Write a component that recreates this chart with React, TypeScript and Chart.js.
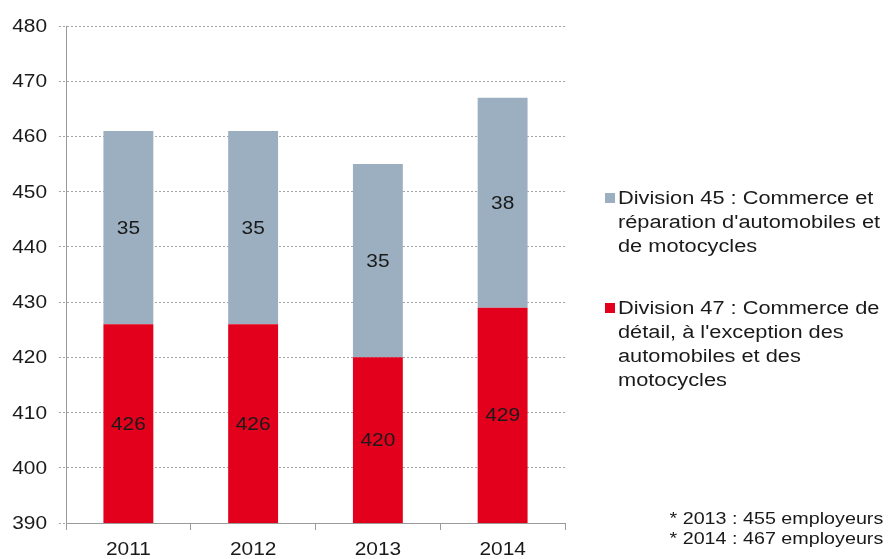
import React, { useEffect, useRef } from "react";
import { Chart, registerables } from "chart.js";

Chart.register(...registerables);

const categories = ["2011", "2012", "2013", "2014"];
const division47 = [426, 426, 420, 429];
const division45 = [35, 35, 35, 38];
const yTicks = { min: 390, max: 480, step: 10 };
const legendDiv45 = ["Division 45 : Commerce et", "réparation d'automobiles et", "de motocycles"];
const legendDiv47 = ["Division 47 : Commerce de", "détail, à l'exception des", "automobiles et des", "motocycles"];
const footnotes = ["* 2013 : 455 employeurs", "* 2014 : 467 employeurs"];

const RED = "#e2001d";
const GREY = "#9cafc0";
const TEXT = "#1a1a1a";
const FONT = "'Liberation Sans', Arial, Helvetica, sans-serif";
const STRETCH = 1.16;

function stretchedText(ctx: CanvasRenderingContext2D, text: string, x: number, y: number, align: CanvasTextAlign) {
  ctx.save();
  ctx.translate(x, y);
  ctx.scale(STRETCH, 1);
  ctx.textAlign = align;
  ctx.fillText(text, 0, 0);
  ctx.restore();
}

const textPlugin = {
  id: "stretchedTexts",
  afterDraw(chart: any) {
    const ctx = chart.ctx as CanvasRenderingContext2D;
    const area = chart.chartArea;
    ctx.save();
    ctx.font = `18px ${FONT}`;
    ctx.fillStyle = TEXT;
    ctx.textBaseline = "middle";
    const ys = chart.scales.y;
    ys.ticks.forEach((t: any) => {
      const py = ys.getPixelForValue(t.value);
      stretchedText(ctx, String(t.label), ys.right - 7 - 12, py + 1, "right");
    });
    const xs = chart.scales.x;
    xs.ticks.forEach((t: any, i: number) => {
      const px = xs.getPixelForTick(i);
      stretchedText(ctx, String(chart.data.labels[i]), px, xs.top + 27, "center");
    });
    chart.data.datasets.forEach((ds: any, di: number) => {
      const meta = chart.getDatasetMeta(di);
      meta.data.forEach((el: any, i: number) => {
        const top = Math.max(el.y, area.top);
        const base = Math.min(el.base, area.bottom);
        stretchedText(ctx, String(ds.data[i]), el.x, (top + base) / 2 + 1, "center");
      });
    });
    ctx.restore();
  },
};

export default function App() {
  const ref = useRef<HTMLCanvasElement | null>(null);
  useEffect(() => {
    if (!ref.current) return;
    const chart = new Chart(ref.current, {
      type: "bar",
      data: {
        labels: categories,
        datasets: [
          { label: legendDiv47.join(" "), data: division47, backgroundColor: RED, barPercentage: 0.8, categoryPercentage: 0.5 },
          { label: legendDiv45.join(" "), data: division45, backgroundColor: GREY, barPercentage: 0.8, categoryPercentage: 0.5 },
        ],
      },
      options: {
        animation: false,
        responsive: true,
        maintainAspectRatio: false,
        layout: { padding: { top: 26, right: 324, left: 0, bottom: 0 } },
        plugins: { legend: { display: false }, tooltip: { enabled: false }, title: { display: false } },
        scales: {
          x: {
            stacked: true,
            grid: { display: true, drawOnChartArea: false, drawTicks: true, tickLength: 7, color: "#9a9a9a", offset: true },
            border: { display: true, color: "#9a9a9a", width: 1 },
            ticks: { display: false },
            afterFit: (s: any) => { s.height = 36; },
          },
          y: {
            stacked: true,
            min: yTicks.min,
            max: yTicks.max,
            ticks: { display: false, stepSize: yTicks.step },
            grid: { color: "#a5a5a5", tickLength: 7, tickBorderDash: [2, 2] } as any,
            border: { display: true, color: "#9a9a9a", width: 1, dash: [2, 2] },
            afterFit: (s: any) => { s.width = 66; },
          },
        },
      },
      plugins: [textPlugin],
    });
    return () => chart.destroy();
  }, []);

  const textStyle: React.CSSProperties = {
    fontFamily: FONT,
    fontSize: 18,
    lineHeight: "24px",
    color: TEXT,
    whiteSpace: "nowrap",
    transform: "scaleX(1.21)",
    transformOrigin: "left top",
  };

  return (
    <div style={{ position: "fixed", left: 0, top: 0, width: 889, height: 559, background: "#fff", overflow: "hidden" }}>
      <canvas ref={ref} />
      <div style={{ position: "absolute", left: 605, top: 193, width: 10, height: 10, background: GREY }} />
      <div style={{ ...textStyle, position: "absolute", left: 618, top: 186 }}>
        {legendDiv45.map((l, i) => <div key={i}>{l}</div>)}
      </div>
      <div style={{ position: "absolute", left: 605, top: 303, width: 10, height: 10, background: RED }} />
      <div style={{ ...textStyle, position: "absolute", left: 618, top: 296 }}>
        {legendDiv47.map((l, i) => <div key={i}>{l}</div>)}
      </div>
      <div style={{ ...textStyle, position: "absolute", right: 6, top: 509, fontSize: 17, lineHeight: "20px", textAlign: "right", transform: "scaleX(1.16)", transformOrigin: "right top" }}>
        {footnotes.map((l, i) => <div key={i}>{l}</div>)}
      </div>
    </div>
  );
}
